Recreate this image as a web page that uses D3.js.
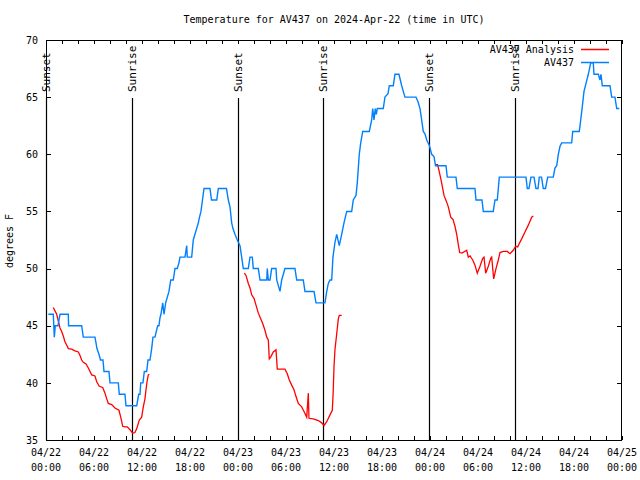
<!DOCTYPE html>
<html><head><meta charset="utf-8">
<script src="https://cdn.jsdelivr.net/npm/d3@7"></script>
<style>body{margin:0;background:#fff}svg text{font-family:"DejaVu Sans Mono","Liberation Mono",monospace;}</style>
</head><body><svg id="c" width="640" height="480"></svg>
<script>
const titleText = "Temperature for AV437 on 2024-Apr-22 (time in UTC)";
const yAxisLabel = "degrees F";
const startTime = Date.UTC(2024, 3, 22, 0, 0);
const endTime = Date.UTC(2024, 3, 25, 0, 0);
const yTickValues = [35, 40, 45, 50, 55, 60, 65, 70];
const seriesNames = ["AV437 Analysis", "AV437"];
const seriesColors = ["#ff0000", "#0080ff"];

// AV437 observations: hours since 04/22 00:00 UTC, temperature F
const obsHours = [0.29,0.91,1.04,1.16,1.5,1.75,2.79,2.82,4.46,4.56,4.66,6.12,6.25,6.37,6.62,6.81,7.12,7.25,7.87,8.0,9.04,9.16,9.87,10.0,11.34,11.59,11.75,11.84,12.12,12.29,12.59,12.75,13.0,13.21,13.37,13.62,13.96,14.12,14.25,14.37,14.59,14.75,14.96,15.37,15.59,15.91,16.12,16.41,16.62,16.75,17.37,17.59,17.66,18.21,18.41,18.62,19.04,19.19,19.37,19.56,19.75,20.5,20.69,21.34,21.54,22.56,22.79,23.0,23.21,23.37,23.62,23.91,24.25,24.46,24.66,25.29,25.5,25.79,25.91,26.54,26.75,27.59,27.66,27.79,28.0,28.21,28.75,28.84,29.25,29.46,29.87,31.12,31.34,32.16,32.37,33.5,33.75,34.87,35.09,35.29,35.5,35.71,35.87,36.12,36.34,36.66,36.96,37.25,37.59,38.21,38.41,38.75,38.91,39.16,39.34,39.59,40.41,40.71,40.84,41.0,41.16,41.29,41.41,42.16,42.37,42.75,42.91,43.41,43.62,44.12,44.46,44.87,46.25,46.5,46.75,46.96,47.16,47.37,47.59,47.91,48.21,48.5,48.69,50.0,50.16,51.25,51.41,53.62,53.75,54.5,54.66,55.91,56.12,56.41,56.54,56.66,60.0,60.16,60.37,60.62,61.0,61.25,61.5,61.66,61.94,62.16,62.44,62.71,63.41,63.62,63.84,64.04,64.25,64.46,65.71,65.84,66.66,66.84,67.06,67.25,67.5,67.79,68.09,68.41,68.5,69.04,69.25,69.37,69.54,70.5,70.71,71.12,71.34,71.66];
const obsTemps = [46,46,44,45,45,46,46,45,45,44.5,44,44,43.5,43,42.5,42,42,41,41,40,40,39,39,38,38,39,39,40,40,41,41,42,42,43,44,44,45,45,45.7,46,47,46,47,48,49,49,50,50,50.5,51,51,52,51,51,52.5,53,54,54.5,55,56,57,57,56,56,57,57,56,55.4,54,53.5,53,52.5,52,51,50,50,51,51,50,50,49,49,50,49,49,50,50,49,48,49,50,50,49,49,48,48,47,47,48,48.7,49,49,51,52.3,53,52,53,54,55,55,56,56.4,57.5,60,61,62,62,63,64,63,64,63.5,64,64,65,65.3,66,66,67,67,66,65,65,64.6,64,63,62,61.8,61.25,60.8,60,59.8,59,59,58,58,57,57,56,56,55,55,56,56,57,58,58,57,57,58,58,57,57,58,58,57,57,58,58,58.8,59,60,60.7,61,61,62,62,63,64.3,65.5,66.2,67,68,68,67,67,66.5,67,66,66,65,65,64,64];

// AV437 Analysis: hours since 04/22 00:00 UTC, temperature F (null = gap)
const anaHours = [0.91,1.12,1.34,1.54,1.75,1.96,2.16,2.37,2.66,2.79,3.21,3.62,4.04,4.25,4.46,4.66,5.0,5.29,5.71,6.12,6.34,6.66,7.09,7.37,7.59,7.79,8.21,8.62,9.12,9.34,9.59,9.87,10.16,10.5,10.84,11.12,11.34,11.66,11.96,12.16,12.37,12.5,12.66,12.79,12.91,
  18.0,
  24.79,25.0,25.29,25.5,25.71,26.0,26.25,26.54,26.84,27.09,27.37,27.59,27.79,27.91,28.12,28.41,28.75,28.91,29.87,30.16,30.41,30.71,31.0,31.25,31.54,31.96,32.25,32.59,32.79,32.87,33.41,34.04,34.46,34.75,35.09,35.5,35.79,35.91,36.0,36.12,36.34,36.54,36.66,36.96,
  42.0,
  48.71,48.94,49.12,49.34,49.54,49.75,50.04,50.29,50.59,50.87,51.12,51.34,51.54,51.71,52.0,52.59,52.79,53.0,53.34,53.62,53.91,54.25,54.59,54.75,54.96,55.29,55.59,55.71,55.96,56.25,56.54,56.75,57.16,57.66,58.0,58.41,58.71,58.96,59.16,59.46,59.87,60.29,60.71,60.91];
const anaTemps = [46.6,46.3,46.0,45.4,44.8,44.5,44.1,43.6,43.2,43.0,42.95,42.8,42.7,42.4,42.0,41.8,41.65,41.3,40.7,40.6,40.1,39.7,39.6,39.1,38.6,38.2,38.1,37.8,37.6,37.0,36.2,36.15,36.15,35.9,35.6,35.65,36.0,36.75,37.0,37.9,38.6,39.4,40.25,40.7,40.75,
  null,
  49.6,49.4,48.7,48.3,47.7,47.4,46.8,46.1,45.6,45.2,44.6,44.0,43.75,42.1,42.3,42.7,42.9,41.2,41.2,40.8,40.25,39.8,39.4,38.8,38.2,37.9,37.5,37.0,39.1,36.9,36.85,36.7,36.5,36.25,36.6,37.2,37.6,39.4,41.4,42.9,44.3,45.6,45.9,45.9,
  null,
  59.1,59.1,58.6,57.9,57.2,56.4,55.9,55.4,54.5,54.3,53.7,53.0,52.1,51.4,51.35,51.6,51.0,51.1,50.75,50.3,49.6,50.2,50.9,51.0,49.6,50.2,50.9,51.0,49.1,50.0,50.75,51.4,51.5,51.5,51.3,51.6,51.95,51.9,52.2,52.6,53.2,53.8,54.5,54.6];

// Sun events: hours since 04/22 00:00 UTC
const sunHours = [0.0, 10.79, 24.04, 34.66, 47.91, 58.66];
const sunLabels = ["Sunset", "Sunrise", "Sunset", "Sunrise", "Sunset", "Sunrise"];

const HOUR = 3600e3;
const toDate = h => new Date(startTime + h * HOUR);

const svg = d3.select("#c");
const m = {l: 46, r: 622, t: 40, b: 440};
const x = d3.scaleUtc().domain([new Date(startTime), new Date(endTime)]).range([m.l, m.r]);
const y = d3.scaleLinear().domain([35, 70]).range([m.b, m.t]);

svg.append("rect").attr("width", 640).attr("height", 480).attr("fill", "#fff");

svg.append("defs").append("clipPath").attr("id", "clip")
  .append("rect").attr("x", m.l).attr("y", m.t).attr("width", m.r - m.l).attr("height", m.b - m.t);

// title
svg.append("text").attr("x", 334).attr("y", 23).attr("text-anchor", "middle")
  .attr("font-size", 10).text(titleText);

// y label
svg.append("text").attr("transform", "translate(13,241) rotate(-90)")
  .attr("text-anchor", "middle").attr("font-size", 10).text(yAxisLabel);

// axes ticks
const minorTicks = d3.range(0, 73, 2).map(toDate);
const majorTicks = d3.range(0, 73, 6).map(toDate);
const fmt1 = d3.utcFormat("%m/%d"), fmt2 = d3.utcFormat("%H:%M");

const gBottom = svg.append("g").attr("transform", `translate(0,${m.b})`)
  .call(d3.axisBottom(x).tickValues(minorTicks).tickSize(-4).tickFormat(""));
const gTop = svg.append("g").attr("transform", `translate(0,${m.t})`)
  .call(d3.axisTop(x).tickValues(minorTicks).tickSize(-4).tickFormat(""));
const gLeft = svg.append("g").attr("transform", `translate(${m.l},0)`)
  .call(d3.axisLeft(y).tickValues(yTickValues).tickSize(-5).tickPadding(8).tickFormat(d3.format("d")));
const gRight = svg.append("g").attr("transform", `translate(${m.r},0)`)
  .call(d3.axisRight(y).tickValues(yTickValues).tickSize(-5).tickFormat(""));
[gBottom, gTop, gLeft, gRight].forEach(g => {
  g.select(".domain").remove();
  g.selectAll("line").attr("stroke", "#000").attr("shape-rendering", "crispEdges");
  g.selectAll("text").attr("font-size", 10).attr("font-family", '"DejaVu Sans Mono",monospace').attr("fill", "#000");
});

// major tick labels (two lines)
const lab = svg.append("g");
majorTicks.forEach(d => {
  const t = lab.append("text").attr("x", x(d)).attr("y", 456).attr("text-anchor", "middle").attr("font-size", 10);
  t.append("tspan").attr("x", x(d)).attr("dy", 0).text(fmt1(d));
  t.append("tspan").attr("x", x(d)).attr("dy", 15).text(fmt2(d));
});

// frame
svg.append("rect").attr("x", m.l + 0.5).attr("y", m.t + 0.5).attr("width", m.r - m.l - 1).attr("height", m.b - m.t)
  .attr("fill", "none").attr("stroke", "#000").attr("shape-rendering", "crispEdges");

// sun lines and labels
const sunG = svg.append("g");
sunHours.forEach((h, i) => {
  const xx = Math.round(x(toDate(h))) + 0.5;
  sunG.append("line").attr("x1", xx).attr("x2", xx).attr("y1", 98).attr("y2", m.b)
    .attr("stroke", "#000").attr("stroke-width", 1.2);
  sunG.append("text").attr("transform", `translate(${xx},92) rotate(-90)`)
    .attr("text-anchor", "start").attr("dominant-baseline", "middle").attr("font-size", 11)
    .text(sunLabels[i]);
});

// series
const obs = obsHours.map((h, i) => ({d: toDate(h), v: obsTemps[i]}));
const ana = anaHours.map((h, i) => ({d: toDate(h), v: anaTemps[i]}));
const line = d3.line().defined(p => p.v != null).x(p => x(p.d)).y(p => y(p.v));
const plot = svg.append("g").attr("clip-path", "url(#clip)");
plot.append("path").datum(ana).attr("d", line).attr("fill", "none")
  .attr("stroke", seriesColors[0]).attr("stroke-width", 1.3).attr("stroke-linejoin", "miter");
plot.append("path").datum(obs).attr("d", line).attr("fill", "none")
  .attr("stroke", seriesColors[1]).attr("stroke-width", 1.4).attr("stroke-linejoin", "miter");

// legend
const leg = svg.append("g");
seriesNames.forEach((n, i) => {
  const yy = 50 + i * 13;
  leg.append("text").attr("x", 574).attr("y", yy).attr("text-anchor", "end")
    .attr("dominant-baseline", "middle").attr("font-size", 10).text(n);
  leg.append("line").attr("x1", 581).attr("x2", 609).attr("y1", yy - 0.5).attr("y2", yy - 0.5)
    .attr("stroke", seriesColors[i]).attr("stroke-width", 1.5);
});
</script></body></html>
